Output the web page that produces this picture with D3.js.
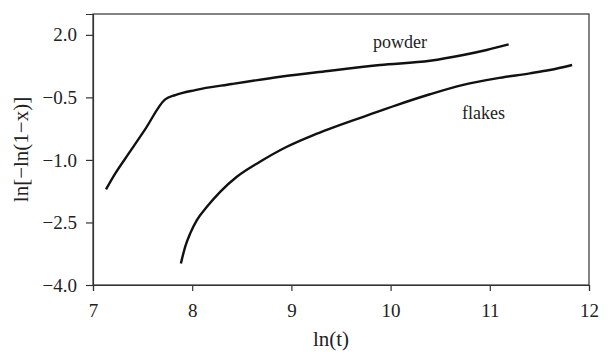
<!DOCTYPE html>
<html>
<head>
<meta charset="utf-8">
<script src="https://cdn.jsdelivr.net/npm/d3@7"></script>
<style>
  body { margin: 0; background: #fff; }
  text { font-family: "Liberation Serif", "DejaVu Serif", serif; fill: #222; }
</style>
</head>
<body>
<script>
// values
let powderX = [7.131, 7.225, 7.359, 7.527, 7.728, 7.829, 8.030, 8.400, 8.887, 9.390, 9.893, 10.397, 10.732, 10.968, 11.190]
let powderY = [-1.707, -1.323, -0.850, -0.260, 0.453, 0.556, 0.676, 0.820, 0.995, 1.140, 1.276, 1.379, 1.516, 1.636, 1.770]

let flakesX = [7.886, 7.929, 7.980, 8.047, 8.148, 8.282, 8.450, 8.683, 8.954, 9.222, 9.390, 9.725, 10.061, 10.397, 10.732, 11.068, 11.404, 11.605, 11.830]
let flakesY = [-3.483, -3.084, -2.762, -2.444, -2.124, -1.765, -1.405, -1.045, -0.685, -0.404, -0.250, 0.035, 0.316, 0.575, 0.800, 0.957, 1.077, 1.156, 1.276]

let xTicks = [7, 8, 9, 10, 11, 12]
let yTicks = [2.0, 0.5, -1.0, -2.5, -4.0]
let yTickLabels = ["2.0", "\u22120.5", "\u22121.0", "\u22122.5", "\u22124.0"]

let width = 609,
    height = 354
let margin = {top: 14, right: 20, bottom: 69, left: 93}

let svg = d3.select("body").append("svg")
    .attr("width", width)
    .attr("height", height)

let x = d3.scaleLinear().domain([7, 12]).range([margin.left, width - margin.right])
let y = d3.scaleLinear().domain([-4, 2.5]).range([height - margin.bottom, margin.top])

// frame
svg.append("rect")
    .attr("x", x(7))
    .attr("y", y(2.5))
    .attr("width", x(12) - x(7))
    .attr("height", y(-4) - y(2.5))
    .attr("fill", "none")
    .attr("stroke", "#333")
    .attr("stroke-width", 1.2)

let xAxis = svg.append("g")
    .attr("transform", `translate(0,${y(-4)})`)
    .call(d3.axisBottom(x).tickValues(xTicks).tickFormat(d3.format("d")).tickSize(6).tickPadding(13))
let yAxis = svg.append("g")
    .attr("transform", `translate(${x(7)},0)`)
    .call(d3.axisLeft(y).tickValues(yTicks).tickFormat((d, i) => yTickLabels[i]).tickSize(7).tickPadding(9))

for (let ax of [xAxis, yAxis]) {
    ax.attr("font-family", "Liberation Serif, serif").attr("font-size", 19)
    ax.select(".domain").attr("stroke", "#333").attr("stroke-width", 1.2)
    ax.selectAll(".tick line").attr("stroke", "#333").attr("stroke-width", 1.2)
    ax.selectAll(".tick text").attr("fill", "#222")
}

let line = d3.line()
    .x(d => x(d[0]))
    .y(d => y(d[1]))
    .curve(d3.curveMonotoneX)

let series = [
    powderX.map((v, i) => [v, powderY[i]]),
    flakesX.map((v, i) => [v, flakesY[i]])
]

svg.append("g")
    .selectAll("path")
    .data(series)
    .enter()
    .append("path")
    .attr("d", line)
    .attr("fill", "none")
    .attr("stroke", "#111")
    .attr("stroke-width", 2.4)

// curve labels
svg.append("text").attr("x", 373).attr("y", 48).style("font-size", "18px").text("powder")
svg.append("text").attr("x", 462).attr("y", 119).style("font-size", "18px").text("flakes")

// axis titles
svg.append("text")
    .attr("x", 331)
    .attr("y", 346)
    .attr("text-anchor", "middle")
    .style("font-size", "21px")
    .text("ln(t)")

svg.append("text")
    .attr("transform", `translate(28,${(y(2.5) + y(-4)) / 2}) rotate(-90)`)
    .attr("text-anchor", "middle")
    .style("font-size", "21px")
    .text("ln[\u2212ln(1\u2212x)]")
</script>
</body>
</html>
